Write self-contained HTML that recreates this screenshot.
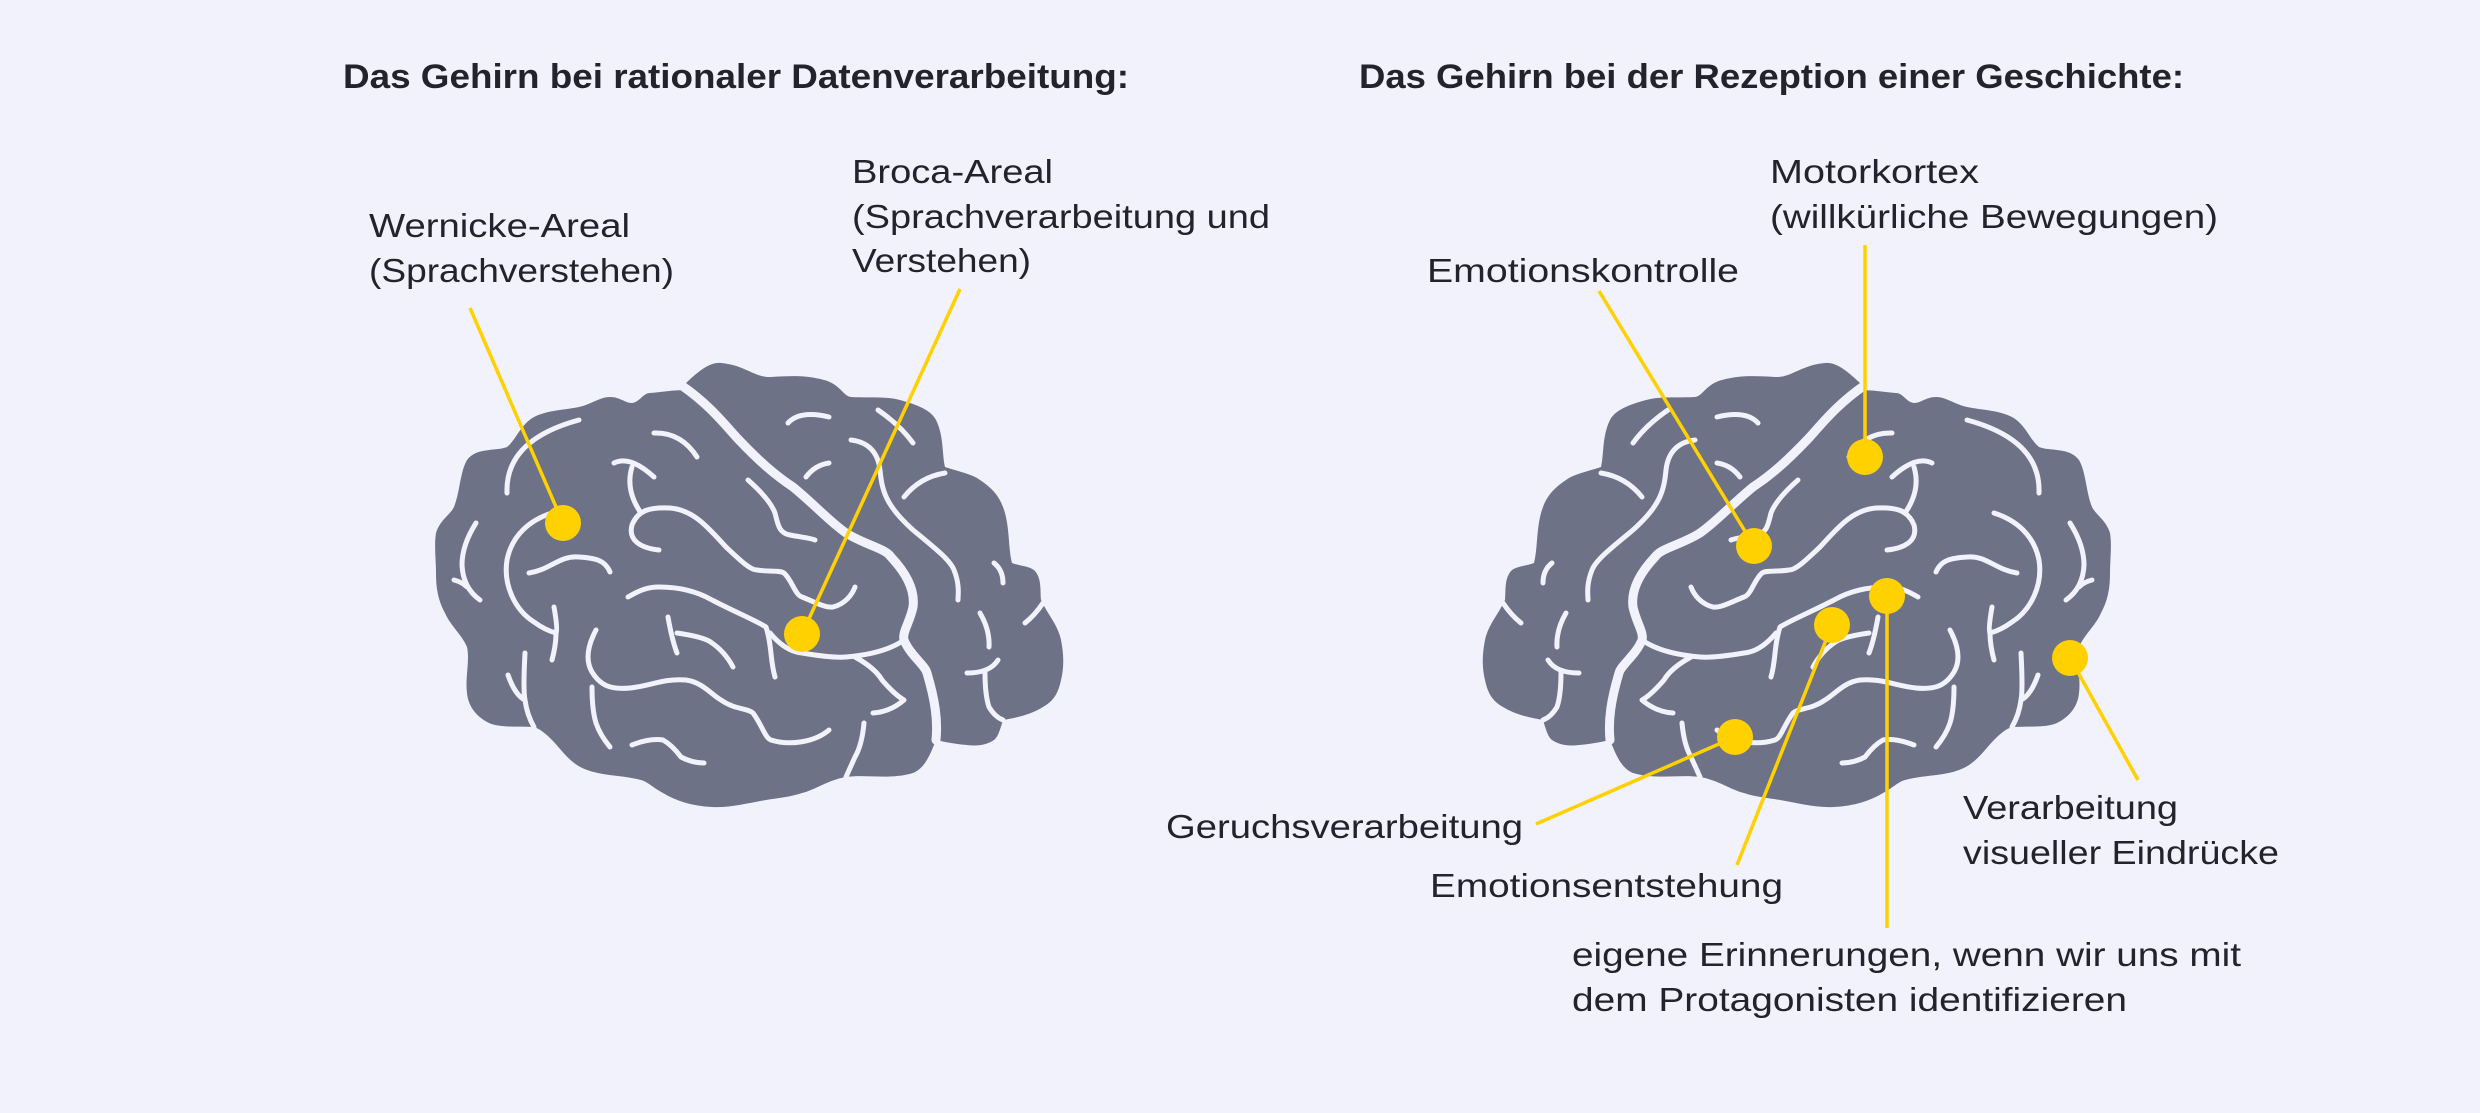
<!DOCTYPE html>
<html><head><meta charset="utf-8"><style>
html,body{margin:0;padding:0;background:#f1f2fb;}
svg{display:block}
text{font-family:"Liberation Sans",sans-serif;fill:#23232d}
.t{font-weight:bold;font-size:34px}
.l{font-size:33px}
.s{fill:none;stroke:#f1f2fb;stroke-width:5;stroke-linecap:round;stroke-linejoin:round}
.f{fill:none;stroke:#f1f2fb;stroke-width:9;stroke-linecap:round}
.y{stroke:#ffd100;stroke-width:3.5;fill:none}
</style></head><body>
<svg width="2480" height="1113" viewBox="0 0 2480 1113" xmlns="http://www.w3.org/2000/svg">
<rect width="2480" height="1113" fill="#f1f2fb"/>
<defs>
<g id="brain">
<path fill="#6e7286" d="M686,383 C700,370 710,362 721,363 C745,365 755,378 771,377 C790,376 805,375 824,380 C840,384 843,396 851,397 C870,398 885,396 900,400 C922,406 932,412 936,420 C944,436 942,455 945,467 C960,472 972,474 980,480 C992,488 999,496 1003,507 C1010,525 1008,548 1012,563 C1020,566 1028,566 1034,570 C1042,578 1040,590 1041,600 C1048,615 1058,625 1061,640 C1064,655 1064,668 1061,680 C1058,695 1052,702 1043,707 C1030,715 1015,718 1003,720 C1000,730 998,737 994,740 C985,746 975,746 967,745 C955,744 945,742 936,740 C930,755 925,768 913,773 C890,780 866,774 846,777 C828,780 815,790 802,793 C790,797 778,798 766,800 C748,803 730,808 712,807 C692,806 676,801 663,793 C652,787 648,782 641,780 C622,775 603,776 587,770 C570,764 562,750 552,740 C545,733 540,729 534,727 C518,726 500,728 489,723 C475,716 468,705 467,693 C465,678 470,660 467,647 C462,635 450,625 445,613 C438,600 436,588 436,573 C436,560 434,545 436,533 C440,520 450,515 454,507 C460,492 460,472 467,460 C473,452 482,451 489,450 C497,449 502,449 507,447 C516,440 520,425 534,417 C548,410 565,410 579,407 C592,404 600,397 610,397 C620,397 625,403 632,403 C640,402 643,393 650,393 C662,392 674,390 686,390 Z"/>
<path class="f" d="M681,385 C710,405 725,425 739,440 C760,462 775,475 793,487 C815,505 830,522 846,533 C865,545 885,548 891,557 C908,575 915,592 913,607 C910,622 902,632 904,640 C910,655 925,665 927,673 C935,700 938,720 936,740"/>
<path class="s" d="M770,633 C780,645 790,652 802,653 C820,656 835,658 846,657 C870,655 890,650 904,640"/>
<path class="s" d="M507,493 Q505,440 579,420"/>
<path class="s" d="M552,513 C530,520 512,535 507,560 C503,585 515,610 534,622 C545,630 552,632 556,633"/>
<path class="s" d="M529,573 C550,570 560,555 579,557 C595,558 605,560 610,572"/>
<path class="s" d="M614,463 Q630,455 654,477 M632,467 Q625,490 641,513"/>
<path class="s" d="M659,550 C640,548 628,540 632,525 C638,510 650,507 670,508 C695,510 710,530 726,547 C740,560 750,570 757,570 C770,572 780,570 784,573 C792,580 795,595 802,597 C815,602 825,608 833,607 C845,604 852,595 855,587"/>
<path class="s" d="M748,480 C765,495 772,505 775,513 C778,525 779,533 790,535 C800,537 810,538 815,540"/>
<path class="s" d="M654,433 Q681,432 697,457"/>
<path class="s" d="M788,423 Q800,410 829,417"/>
<path class="s" d="M806,477 Q815,465 829,463"/>
<path class="s" d="M904,497 Q920,477 945,473"/>
<path class="s" d="M851,440 C868,442 878,452 880,470 C882,490 885,505 913,530 C935,548 950,560 954,570 C960,585 958,595 958,600"/>
<path class="s" d="M878,410 Q900,425 913,443"/>
<path class="s" d="M628,597 C640,590 648,587 659,587 C680,587 698,592 712,600 C735,612 755,620 766,627 C772,645 770,660 775,677"/>
<path class="s" d="M596,630 C588,645 585,660 592,672 C600,685 610,690 630,688 C650,686 665,678 686,680 C702,682 712,695 721,700 C735,710 748,708 753,713 C762,725 765,738 771,740 C790,746 815,742 829,730"/>
<path class="s" d="M668,617 Q672,640 677,653 M677,633 Q705,637 712,643 Q725,652 733,667"/>
<path class="s" d="M855,657 Q875,668 882,680 Q895,695 904,700 Q890,712 873,713"/>
<path class="s" d="M980,613 Q990,630 989,647 M998,660 Q990,673 967,673 M985,673 Q985,695 989,707 Q995,717 1003,720"/>
<path class="s" d="M994,563 Q1003,570 1003,583 M1043,603 Q1035,615 1025,623"/>
<path class="s" d="M476,523 Q462,545 462,565 Q463,588 480,600 M454,580 Q462,582 467,587"/>
<path class="s" d="M525,653 Q523,690 525,700 Q527,715 534,727 M508,675 Q515,695 525,700"/>
<path class="s" d="M554,607 Q558,630 556,633 Q556,645 552,660"/>
<path class="s" d="M592,687 Q592,710 596,723 Q600,735 610,747"/>
<path class="s" d="M632,745 Q650,738 663,740 Q672,745 681,757 Q692,763 704,763"/>
<path class="s" d="M864,723 Q862,745 855,757 Q850,768 846,777"/>
</g>
</defs>
<use href="#brain"/>
<use href="#brain" transform="translate(2546,0) scale(-1,1)"/>

<g class="y">
<line x1="470" y1="308" x2="563" y2="523"/>
<line x1="960" y1="289" x2="802" y2="634"/>
<line x1="1865" y1="245" x2="1865" y2="457"/>
<line x1="1599" y1="291" x2="1754" y2="546"/>
<line x1="1536" y1="824" x2="1735" y2="737"/>
<line x1="1737" y1="865" x2="1832" y2="625"/>
<line x1="1887" y1="596" x2="1887" y2="928"/>
<line x1="2070" y1="658" x2="2138" y2="780"/>
</g>
<g fill="#ffd100">
<ellipse cx="563" cy="523" rx="18" ry="18"/>
<ellipse cx="802" cy="634" rx="18" ry="18"/>
<ellipse cx="1865" cy="457" rx="18" ry="18"/>
<ellipse cx="1754" cy="546" rx="18" ry="18"/>
<ellipse cx="1832" cy="625" rx="18" ry="18"/>
<ellipse cx="1887" cy="596" rx="18" ry="18"/>
<ellipse cx="1735" cy="737" rx="18" ry="18"/>
<ellipse cx="2070" cy="658" rx="18" ry="18"/>
</g>

<text class="t" x="343" y="88" textLength="786" lengthAdjust="spacingAndGlyphs">Das Gehirn bei rationaler Datenverarbeitung:</text>
<text class="t" x="1359" y="88" textLength="825" lengthAdjust="spacingAndGlyphs">Das Gehirn bei der Rezeption einer Geschichte:</text>

<text class="l" x="369" y="237" textLength="261" lengthAdjust="spacingAndGlyphs">Wernicke-Areal</text>
<text class="l" x="369" y="282" textLength="305" lengthAdjust="spacingAndGlyphs">(Sprachverstehen)</text>
<text class="l" x="852" y="183" textLength="201" lengthAdjust="spacingAndGlyphs">Broca-Areal</text>
<text class="l" x="852" y="228" textLength="418" lengthAdjust="spacingAndGlyphs">(Sprachverarbeitung und</text>
<text class="l" x="852" y="272" textLength="179" lengthAdjust="spacingAndGlyphs">Verstehen)</text>
<text class="l" x="1770" y="183" textLength="209" lengthAdjust="spacingAndGlyphs">Motorkortex</text>
<text class="l" x="1770" y="228" textLength="448" lengthAdjust="spacingAndGlyphs">(willkürliche Bewegungen)</text>
<text class="l" x="1427" y="282" textLength="312" lengthAdjust="spacingAndGlyphs">Emotionskontrolle</text>
<text class="l" x="1166" y="838" textLength="357" lengthAdjust="spacingAndGlyphs">Geruchsverarbeitung</text>
<text class="l" x="1430" y="897" textLength="353" lengthAdjust="spacingAndGlyphs">Emotionsentstehung</text>
<text class="l" x="1963" y="819" textLength="215" lengthAdjust="spacingAndGlyphs">Verarbeitung</text>
<text class="l" x="1963" y="864" textLength="316" lengthAdjust="spacingAndGlyphs">visueller Eindrücke</text>
<text class="l" x="1572" y="966" textLength="669" lengthAdjust="spacingAndGlyphs">eigene Erinnerungen, wenn wir uns mit</text>
<text class="l" x="1572" y="1011" textLength="555" lengthAdjust="spacingAndGlyphs">dem Protagonisten identifizieren</text>
</svg>
</body></html>
